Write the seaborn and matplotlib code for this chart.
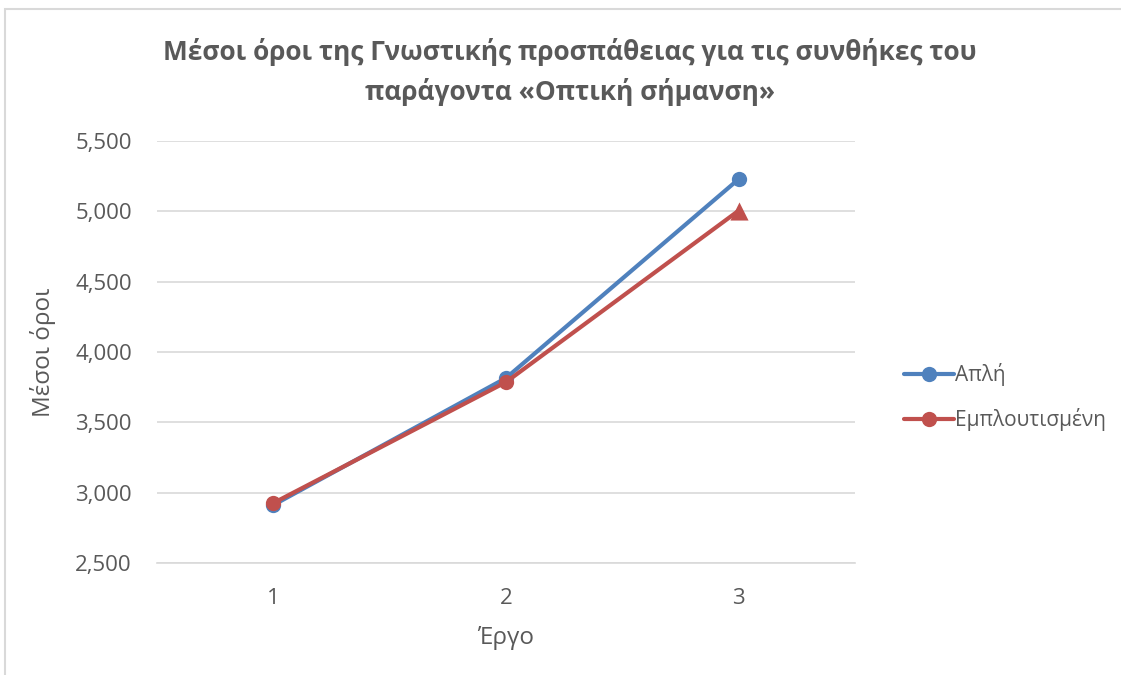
import matplotlib
matplotlib.use("Agg")
import matplotlib.pyplot as plt
import matplotlib.ticker as mticker
from matplotlib.lines import Line2D
from matplotlib.patches import Rectangle
import seaborn as sns
import pandas as pd

# Data
tasks = [1, 2, 3]
simple_means = [2.912, 3.815, 5.229]
enriched_means = [2.926, 3.786, 5.005]
series_names = ["Απλή", "Εμπλουτισμένη"]
y_ticks = [2.5, 3.0, 3.5, 4.0, 4.5, 5.0, 5.5]

title_text = "Μέσοι όροι της Γνωστικής προσπάθειας για τις συνθήκες του\nπαράγοντα «Οπτική σήμανση»"
x_label = "Έργο"
y_label = "Μέσοι όροι"

BLUE = "#4F81BD"
RED = "#C0504D"
TEXT = "#595959"
GRID = "#D9D9D9"

sns.set_theme(style="white")
plt.rcParams["font.family"] = ["Open Sans", "DejaVu Sans"]

fig = plt.figure(figsize=(11.21, 6.75), dpi=100)
W, H = 1121, 675
ax = fig.add_axes([157 / W, 1 - 563 / H, (855 - 157) / W, (563 - 141) / H])

df = pd.DataFrame({
    "task": tasks * 2,
    "mean": simple_means + enriched_means,
    "series": [series_names[0]] * 3 + [series_names[1]] * 3,
})

sub_a = df[df["series"] == series_names[0]]
sub_b = df[df["series"] == series_names[1]]

sns.lineplot(data=sub_a, x="task", y="mean", color=BLUE, linewidth=3.0,
             marker="o", markersize=11, markeredgewidth=0, ax=ax, zorder=3,
             legend=False)
sns.lineplot(data=sub_b, x="task", y="mean", color=RED, linewidth=3.0,
             marker="o", markersize=11, markeredgewidth=0, markevery=[0, 1],
             ax=ax, zorder=4, legend=False)
sns.scatterplot(data=sub_b.iloc[[2]], x="task", y="mean", color=RED,
                marker="^", s=170, linewidth=0, ax=ax, zorder=5, legend=False)

ax.set_xlim(0.5, 3.5)
ax.set_ylim(2.5, 5.5)
ax.set_xticks(tasks)
ax.set_xticklabels([str(t) for t in tasks])
ax.set_yticks(y_ticks)
ax.yaxis.set_major_formatter(
    mticker.FuncFormatter(lambda v, p: f"{v:.3f}".replace(".", ",")))

ax.grid(axis="y", color=GRID, linewidth=1.2)
ax.grid(axis="x", visible=False)
for side in ["top", "right", "left"]:
    ax.spines[side].set_visible(False)
ax.spines["bottom"].set_color(GRID)
ax.spines["bottom"].set_linewidth(1.2)
ax.tick_params(axis="both", length=0, labelsize=16, colors=TEXT)
ax.tick_params(axis="y", pad=18)
ax.tick_params(axis="x", pad=18)

ax.set_xlabel(x_label, fontsize=17.5, color=TEXT, labelpad=12)
ax.set_ylabel(y_label, fontsize=17.5, color=TEXT, labelpad=14)

fig.text(570 / W, 1 - 72 / H, title_text, ha="center", va="center",
         fontsize=18.9, fontweight="bold", color=TEXT, linespacing=1.5)

handles = [
    Line2D([], [], color=BLUE, linewidth=3.0, marker="o", markersize=11,
           markeredgewidth=0),
    Line2D([], [], color=RED, linewidth=3.0, marker="o", markersize=11,
           markeredgewidth=0),
]
fig.legend(handles, series_names, loc="center left",
           bbox_to_anchor=(885 / W, 1 - 397 / H), frameon=False,
           fontsize=15, labelcolor=TEXT, handlelength=2.4, handletextpad=0.05,
           labelspacing=1.05)

# Chart-area frame
fig.patches.append(Rectangle((5 / W, -0.1), 1.2, 1 - 9 / H + 0.1,
                             transform=fig.transFigure, fill=False,
                             edgecolor=GRID, linewidth=1.5, zorder=0))

fig.savefig("out.png", dpi=100, facecolor="white")
